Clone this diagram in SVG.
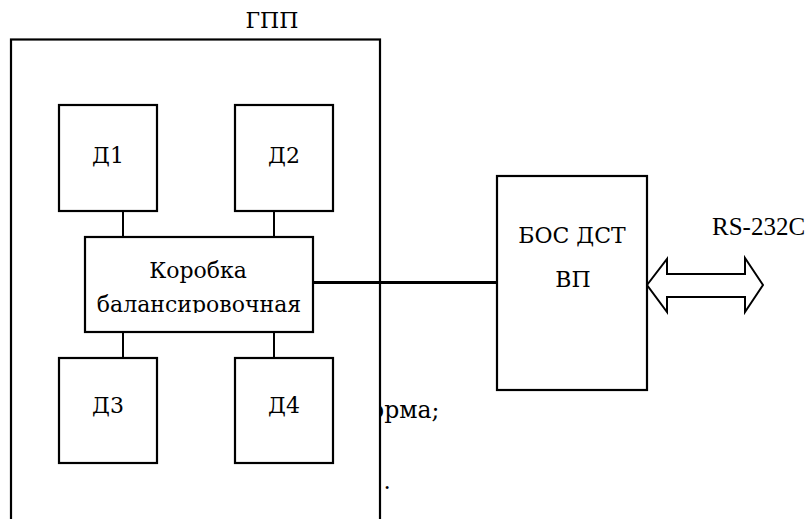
<svg xmlns="http://www.w3.org/2000/svg" width="809" height="519" viewBox="0 0 809 519">
<style>
text{font-family:"Liberation Serif","DejaVu Serif","Times New Roman",serif;font-size:25px;fill:#000}
.cy{font-family:"DejaVu Serif","Liberation Serif",serif;font-size:22px}
.box{fill:#fff;stroke:#000;stroke-width:2.2}
.ln{stroke:#000;stroke-width:2;fill:none}
</style>
<defs>
<clipPath id="kbclip"><rect x="86" y="238" width="226" height="75"/></clipPath>
</defs>
<rect width="809" height="519" fill="#fff"/>
<text class="cy" x="370" y="418" style="font-size:23.5px">орма;</text>
<text x="384" y="489">.</text>
<g id="gpp">
<rect class="box" x="11" y="39.5" width="369" height="500"/>
<text class="cy" x="272" y="28" text-anchor="middle">ГПП</text>
</g>
<g id="connectors">
<line class="ln" x1="123" y1="211" x2="123" y2="237"/>
<line class="ln" x1="274" y1="211" x2="274" y2="237"/>
<line class="ln" x1="123" y1="332" x2="123" y2="358"/>
<line class="ln" x1="274" y1="332" x2="274" y2="358"/>
<line stroke="#000" stroke-width="3.2" x1="313" y1="282.5" x2="497" y2="282.5"/>
<polygon class="ln" points="647,285 667,259 667,274 745,274 745,258 763,285 745,312 745,297 667,297 667,312" fill="#fff"/>
</g>
<g id="d1">
<rect class="box" x="59" y="105" width="98" height="106"/>
<text class="cy" x="108" y="163" text-anchor="middle">Д1</text>
</g>
<g id="d2">
<rect class="box" x="235" y="105" width="98" height="106"/>
<text class="cy" x="284" y="163" text-anchor="middle">Д2</text>
</g>
<g id="korobka">
<rect class="box" x="85" y="237" width="228" height="95"/>
<text class="cy" x="198" y="278" text-anchor="middle">Коробка</text>
<text class="cy" x="199" y="312" text-anchor="middle" clip-path="url(#kbclip)">балансировочная</text>
</g>
<g id="d3">
<rect class="box" x="59" y="358" width="98" height="105"/>
<text class="cy" x="108" y="413" text-anchor="middle">Д3</text>
</g>
<g id="d4">
<rect class="box" x="235" y="358" width="98" height="105"/>
<text class="cy" x="284" y="413" text-anchor="middle">Д4</text>
</g>
<g id="bos">
<rect class="box" x="497" y="176" width="150" height="214"/>
<text class="cy" x="572" y="243" text-anchor="middle">БОС ДСТ</text>
<text class="cy" x="573" y="287" text-anchor="middle">ВП</text>
</g>
<g id="rs232">
<text x="712" y="235">RS-232C</text>
</g>
</svg>
